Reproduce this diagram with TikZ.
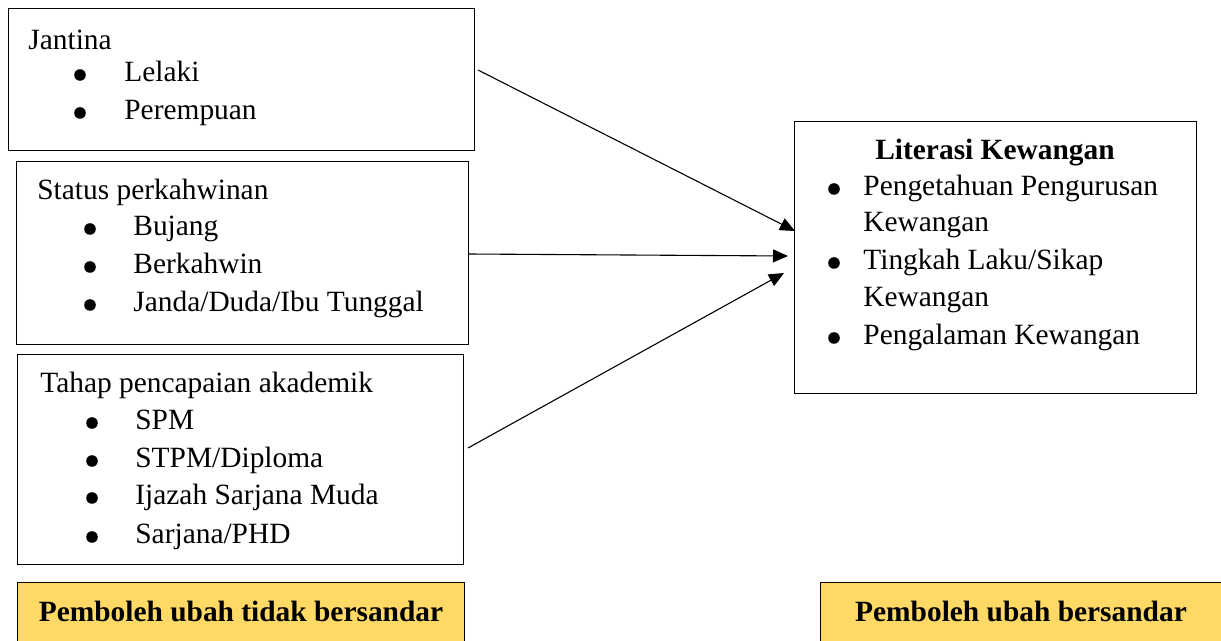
\documentclass[tikz,border=0pt]{standalone}
\usepackage{fontspec}
\setmainfont{Liberation Serif}
\usetikzlibrary{arrows.meta}
\definecolor{goldbox}{HTML}{FFD966}
\tikzset{
  box/.style={draw=black, line width=0.6pt, rectangle, inner sep=0pt, anchor=north west},
  ybox/.style={box, fill=goldbox},
  txt/.style={anchor=base west, inner sep=0pt, font=\fontsize{14.7}{17}\selectfont},
  btxt/.style={anchor=base, inner sep=0pt, font=\fontsize{14.7}{17}\selectfont\bfseries},
  dot/.style={circle, fill=black, inner sep=0pt, minimum size=5.8pt},
  conn/.style={draw=black, line width=0.55pt, -{Triangle[length=7.5pt,width=6.5pt]}}
}
\begin{document}
\begin{tikzpicture}[x=0.5pt,y=-0.5pt]
\useasboundingbox (0,0) rectangle (1221,641);
% boxes
\node[box, minimum width=233pt, minimum height=71pt] (b1) at (8,8) {};
\node[box, minimum width=226pt, minimum height=91.5pt] (b2) at (16,161) {};
\node[box, minimum width=223pt, minimum height=105pt] (b3) at (17,354) {};
\node[box, minimum width=201pt, minimum height=136pt] (r) at (794,121) {};
\node[ybox, minimum width=223.5pt, minimum height=34pt] (y1) at (17,582) {};
\node[ybox, minimum width=204pt, minimum height=34pt] (y2) at (820,582) {};
% box 1
\node[txt] (t1) at (28,50) {Jantina};
\node[dot] (t1a) at (80,75) {};
\node[txt] (t1b) at (124,82) {Lelaki};
\node[dot] (t1c) at (80,113) {};
\node[txt] (t1d) at (124,120) {Perempuan};
% box 2
\node[txt] (t2) at (37,200) {Status perkahwinan};
\node[dot] (t2a) at (90,229) {};
\node[txt] (t2b) at (133,236) {Bujang};
\node[dot] (t2c) at (90,267) {};
\node[txt] (t2d) at (133,274) {Berkahwin};
\node[dot] (t2e) at (90,305) {};
\node[txt] (t2f) at (133,312) {Janda/Duda/Ibu Tunggal};
% box 3
\node[txt] (t3) at (40,393) {Tahap pencapaian akademik};
\node[dot] (t3a) at (92,423) {};
\node[txt] (t3b) at (135,430) {SPM};
\node[dot] (t3c) at (92,461) {};
\node[txt] (t3d) at (135,468) {STPM/Diploma};
\node[dot] (t3e) at (92,498) {};
\node[txt] (t3f) at (135,505) {Ijazah Sarjana Muda};
\node[dot] (t3g) at (92,537) {};
\node[txt] (t3h) at (135,544) {Sarjana/PHD};
% right box
\node[btxt] (rt) at (995,160) {Literasi Kewangan};
\node[dot] (ra) at (834,189) {};
\node[txt] (rb) at (863,196) {Pengetahuan Pengurusan};
\node[txt] (rc) at (863,232) {Kewangan};
\node[dot] (rd) at (834,263) {};
\node[txt] (re) at (863,270) {Tingkah Laku/Sikap};
\node[txt] (rf) at (863,307) {Kewangan};
\node[dot] (rg) at (834,338) {};
\node[txt] (rh) at (863,345) {Pengalaman Kewangan};
% yellow labels
\node[btxt] (yl) at (241,621) {Pemboleh ubah tidak bersandar};
\node[btxt] (yr) at (1021,621) {Pemboleh ubah bersandar};
% connectors
\coordinate (s1) at (478,70);
\coordinate (e1) at (795,231);
\coordinate (s2) at (468,254);
\coordinate (e2) at (788,256);
\coordinate (s3) at (468,448);
\coordinate (e3) at (784,273);
\draw[conn] (s1) -- (e1);
\draw[conn] (s2) -- (e2);
\draw[conn] (s3) -- (e3);
\end{tikzpicture}
\end{document}
